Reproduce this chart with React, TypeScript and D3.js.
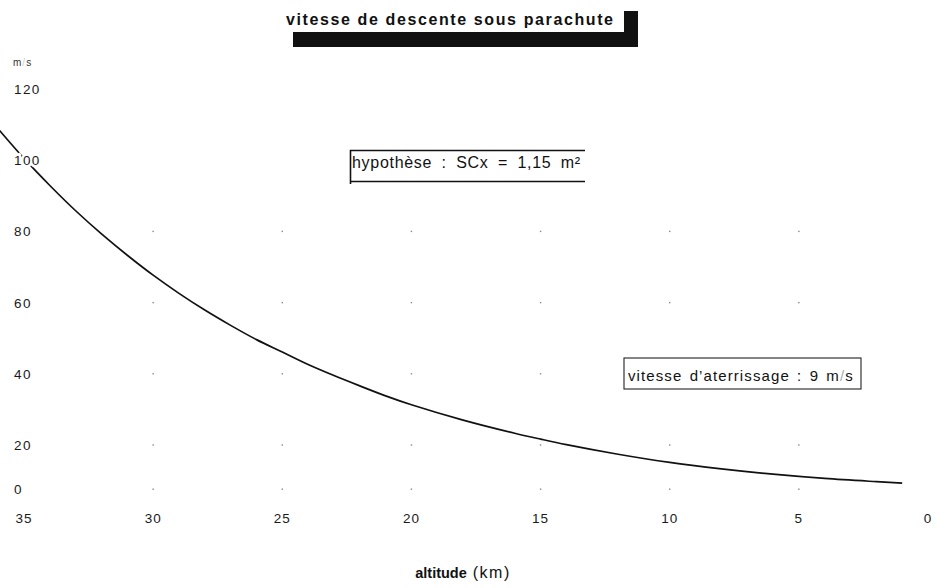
import React from "react";
import * as d3 from "d3";

// altitude (km) -> descent speed (m/s)
const altitudes = [36, 35, 34, 33, 32, 31, 30, 29, 28, 27, 26, 25, 24, 23, 22, 21, 20, 18, 16, 15, 14, 12, 10, 8, 6, 4, 2, 1];
const speeds = [108.8, 100.5, 92.9, 85.8, 79.3, 73.3, 67.7, 62.6, 57.9, 53.6, 49.6, 46.1, 42.6, 39.5, 36.6, 33.8, 31.3, 27.0, 23.3, 21.65, 20.1, 17.4, 15.1, 13.3, 11.8, 10.6, 9.7, 9.3];

const xTicks = [35, 30, 25, 20, 15, 10, 5, 0];
const yTicks = [0, 20, 40, 60, 80, 100, 120];
const gridX = [30, 25, 20, 15, 10, 5];
const gridY = [0, 20, 40, 60, 80];

const title = "vitesse de descente sous parachute";
const note1 = "hypothèse : SCx = 1,15 m²";
const note2a = "vitesse d’aterrissage : 9 m";
const note2b = "s";

const W = 937;
const H = 588;

const App = () => {
  const x = d3.scaleLinear().domain([35, 0]).range([24, 928]);
  const y = d3.scaleLinear().domain([20, 120]).range([445, 89]);
  // the plate draws its zero row higher than the linear scale would put it
  const rowY = (v: number) => (v === 0 ? y(0) - 27 : y(v));

  const data = altitudes.map((a, i) => ({ a, v: speeds[i] }));
  const line = d3
    .line<{ a: number; v: number }>()
    .x(d => x(d.a))
    .y(d => y(d.v))
    .curve(d3.curveCatmullRom);

  const font = "'Liberation Sans', Arial, sans-serif";

  return (
    <svg
      width={W}
      height={H}
      style={{ position: "absolute", left: 0, top: 0, background: "#fff" }}
      fontFamily={font}
    >
      {/* title with its heavy shadow bar */}
      <rect x={293} y={32} width={345} height={15} fill="#111" />
      <rect x={624} y={11} width={14} height={36} fill="#111" />
      <text
        x={286}
        y={25}
        fontSize={16}
        fontWeight="bold"
        fill="#111"
        textLength={327}
        lengthAdjust="spacing"
      >
        {title}
      </text>

      {/* grid dots */}
      {gridY.map(v =>
        gridX.map(a => (
          <rect key={`${v}-${a}`} x={x(a) - 0.7} y={rowY(v) - 0.7} width={1.4} height={1.4} fill="#888" />
        ))
      )}

      {/* curve */}
      <path d={line(data) || ""} fill="none" stroke="#111" strokeWidth={1.7} />

      {/* y axis labels */}
      <text x={13} y={66} fontSize={10} fill="#333" letterSpacing={1}>
        m<tspan fill="#ccc">/</tspan>s
      </text>
      {yTicks.map(v => (
        <text
          key={v}
          x={14}
          y={rowY(v) + 5}
          fontSize={13.5}
          fill="#1a1a1a"
          letterSpacing={1.4}
          stroke="#fff"
          strokeWidth={5}
          paintOrder="stroke"
        >
          {v}
        </text>
      ))}

      {/* x axis labels */}
      {xTicks.map(a => (
        <text key={a} x={x(a)} y={523} fontSize={13.5} fill="#1a1a1a" textAnchor="middle" letterSpacing={1}>
          {a}
        </text>
      ))}
      <text x={463} y={578} textAnchor="middle" fill="#111">
        <tspan fontSize={14.5} fontWeight="bold">altitude</tspan>
        <tspan fontSize={16} dx={6} letterSpacing={1.5}>(km)</tspan>
      </text>

      {/* annotation boxes */}
      <path d="M585,150.5 H350.5 V184 M350.5,181.5 H585" fill="none" stroke="#111" strokeWidth={1.6} />
      <text x={352} y={168} fontSize={16} fill="#111" letterSpacing={0.7} wordSpacing={4.3}>
        {note1}
      </text>

      <rect x={624} y={358} width={237} height={31} fill="none" stroke="#222" strokeWidth={1.1} />
      <text x={628} y={381} fontSize={15} fill="#111" letterSpacing={1.1} wordSpacing={2}>
        {note2a}
        <tspan fill="#aaa">/</tspan>
        {note2b}
      </text>
    </svg>
  );
};

export default App;
